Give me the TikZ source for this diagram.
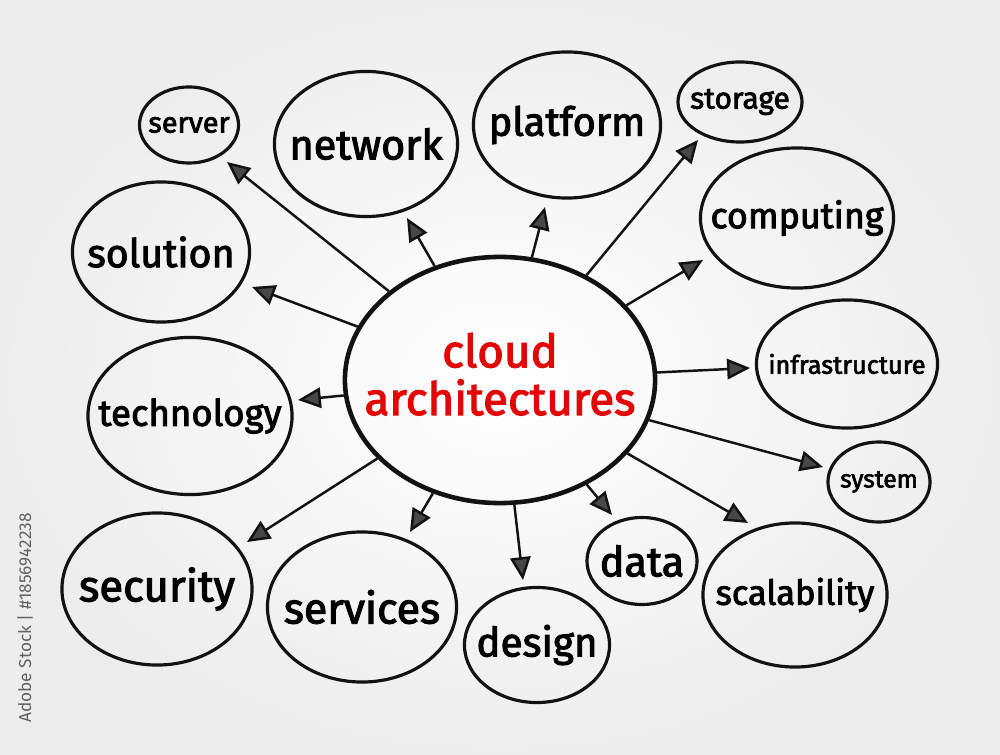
\documentclass[tikz,border=0pt]{standalone}
\usepackage{fontspec}
\setmainfont{Fira Sans}
\newfontfamily\handfont[FakeBold=2.5]{Fira Sans}
\usetikzlibrary{arrows.meta,shapes.geometric}
\definecolor{ink}{RGB}{18,18,18}
\definecolor{cred}{RGB}{226,6,6}
\newcommand\nowidth[1]{\makebox[0pt]{#1}}

\begin{document}
\begin{tikzpicture}[x=0.01cm,y=-0.01cm,
    bubble/.style={ellipse,draw=ink,line width=0.9pt,inner sep=0pt,
                   font=\handfont\fontsize{11.5}{12}\selectfont},
    fs/.style={font=\handfont\fontsize{#1}{#1}\selectfont},
    hub/.style={ellipse,draw=ink,line width=1.3pt,inner sep=0pt,text=cred,
                font=\handfont\fontsize{13}{11.4}\selectfont},
    arr/.style={line width=0.7pt,draw=ink,
                -{Triangle[length=6.5pt,width=5.8pt,fill=black!72]}}]
    \shade[inner color=white,outer color=black!7] (0,0) rectangle (1000,755);
    \node[rotate=90,text=black!62,font=\fontsize{4.9}{5}\selectfont]
      (stock) at (25,618) {Adobe Stock | \#1856942238};
    % centre
    \node[hub,minimum width=3.10cm,minimum height=2.46cm] (cl) at (500,380)
      {\nowidth{\begin{tabular}{@{}c@{}}cloud\\architectures\end{tabular}}};
    % topics
    \node[bubble,fs=8.2,minimum width=0.99cm,minimum height=0.76cm] (srv) at (189,125) {\nowidth{server}};
    \node[bubble,fs=11.8,minimum width=1.83cm,minimum height=1.45cm] (net) at (366,144) {\nowidth{network}};
    \node[bubble,fs=11.3,minimum width=1.87cm,minimum height=1.46cm] (pla) at (567,125) {\nowidth{platform}};
    \node[bubble,fs=8.5,minimum width=1.24cm,minimum height=0.80cm] (sto) at (740,102) {\nowidth{storage}};
    \node[bubble,fs=10.2,minimum width=1.93cm,minimum height=1.40cm] (com) at (797,218) {\nowidth{computing}};
    \node[bubble,fs=7.2,minimum width=1.81cm,minimum height=1.28cm] (inf) at (847,364) {\nowidth{infrastructure}};
    \node[bubble,fs=7.0,minimum width=1.02cm,minimum height=0.80cm] (sys) at (879,482) {\nowidth{system}};
    \node[bubble,fs=9.8,minimum width=1.84cm,minimum height=1.44cm] (sca) at (795,595) {\nowidth{scalability}};
    \node[bubble,fs=11.8,minimum width=1.10cm,minimum height=0.87cm] (dat) at (642,561) {\nowidth{data}};
    \node[bubble,fs=11.5,minimum width=1.45cm,minimum height=1.15cm] (des) at (537,645) {\nowidth{design}};
    \node[bubble,fs=12.2,minimum width=1.89cm,minimum height=1.50cm] (svc) at (362,607) {\nowidth{services}};
    \node[bubble,fs=12.4,minimum width=1.90cm,minimum height=1.52cm] (sec) at (157,589) {\nowidth{security}};
    \node[bubble,fs=10.4,minimum width=2.04cm,minimum height=1.57cm] (tec) at (190,416) {\nowidth{technology}};
    \node[bubble,fs=11.2,minimum width=1.77cm,minimum height=1.40cm] (sol) at (161,252) {\nowidth{solution}};
    % arrow tips
    \coordinate (tSrv) at (227,162); \coordinate (tNet) at (407,218);
    \coordinate (tPla) at (545,207); \coordinate (tSto) at (698,140);
    \coordinate (tCom) at (703,260); \coordinate (tInf) at (750,368);
    \coordinate (tSys) at (823,467); \coordinate (tSca) at (748,523);
    \coordinate (tDat) at (612,515); \coordinate (tDes) at (523,580);
    \coordinate (tSvc) at (410,532); \coordinate (tSec) at (247,542);
    \coordinate (tTec) at (298,400); \coordinate (tSol) at (252,287);
    \draw[arr] (cl)--(tSrv); \draw[arr] (cl)--(tNet); \draw[arr] (cl)--(tPla);
    \draw[arr] (cl)--(tSto); \draw[arr] (cl)--(tCom); \draw[arr] (cl)--(tInf);
    \draw[arr] (cl)--(tSys); \draw[arr] (cl)--(tSca); \draw[arr] (cl)--(tDat);
    \draw[arr] (cl)--(tDes); \draw[arr] (cl)--(tSvc); \draw[arr] (cl)--(tSec);
    \draw[arr] (cl)--(tTec); \draw[arr] (cl)--(tSol);
\end{tikzpicture}
\end{document}
